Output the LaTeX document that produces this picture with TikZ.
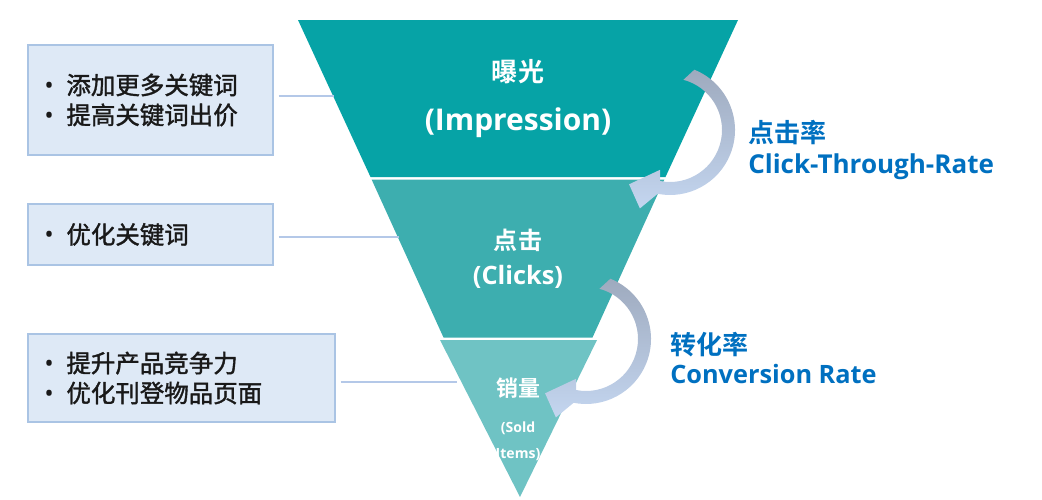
\documentclass[tikz,border=0pt]{standalone}
\usepackage{fontspec}
\setmainfont{Open Sans}
\newfontfamily\cjk{Noto Sans CJK SC}[BoldFont={Noto Sans CJK SC Bold}]
\newfontfamily\cjkmid{Noto Sans CJK SC}[FakeBold=1.5]
\definecolor{bandA}{RGB}{6,163,166}
\definecolor{bandB}{RGB}{61,174,175}
\definecolor{bandC}{RGB}{111,195,196}
\definecolor{boxfill}{RGB}{222,233,246}
\definecolor{boxline}{RGB}{170,196,228}
\definecolor{linkblue}{RGB}{180,200,232}
\definecolor{rateblue}{RGB}{0,112,192}
\definecolor{arrowtop}{RGB}{158,170,190}
\definecolor{arrowbot}{RGB}{196,214,240}

\begin{document}
\begin{tikzpicture}[x=0.025cm, y=-0.025cm,
    infobox/.style={draw=boxline, fill=boxfill, line width=1pt, align=left,
      inner xsep=0.4cm, inner ysep=0pt, text=black!90,
      font=\cjkmid\fontsize{17.4}{21.3}\selectfont},
    link/.style={draw=linkblue, line width=1.4pt, shorten <=3.5pt},
    funtxt/.style={text=white, inner sep=0pt},
    ratetxt/.style={text=rateblue, anchor=west, inner sep=0pt},
    ratearrow/.pic={
      \shade[top color=arrowtop, bottom color=arrowbot]
        (-75:52) -- (-68:65) arc[start angle=-68, end angle=101, radius=65]
        -- (111:84) -- (127:68) -- (104:41) -- (101:52)
        arc[start angle=101, end angle=-75, radius=52] -- cycle;
    },
  ]
  \useasboundingbox (0,0) rectangle (1042,500);
  \def\bul{\makebox[0.55cm][l]{\rmfamily\fontsize{18}{18}\selectfont •}}

  % funnel
  \fill[bandA] (298,20) -- (738,20) -- (665.5,177) -- (370.5,177) -- cycle;
  \fill[bandB] (371.6,179.5) -- (664.4,179.5) -- (592.5,337.5) -- (443.5,337.5) -- cycle;
  \fill[bandC] (440,340) -- (597,340) -- (520,497) -- cycle;

  % left boxes
  \node[infobox, minimum width=6.125cm, minimum height=2.75cm, text width=5.3cm]
    (tips1) at (150.5,100) {\bul 添加更多关键词\\\bul 提高关键词出价};
  \node[infobox, minimum width=6.125cm, minimum height=1.525cm, text width=5.3cm]
    (tips2) at (150.5,234.5) {\bul 优化关键词};
  \node[infobox, minimum width=7.675cm, minimum height=2.2cm, text width=6.85cm]
    (tips3) at (181.5,378) {\bul 提升产品竞争力\\\bul 优化刊登物品页面};

  \coordinate (edge1) at (334,96);
  \coordinate (edge2) at (399,237);
  \coordinate (edge3) at (457,382);
  \draw[link] (tips1.east |- edge1) -- (edge1);
  \draw[link] (tips2.east |- edge2) -- (edge2);
  \draw[link] (tips3.east |- edge3) -- (edge3);

  % curved arrows
  \pic at (670,130) {ratearrow};
  \pic at (586,339) {ratearrow};

  % funnel labels
  \node[funtxt, font=\cjk\bfseries\fontsize{18.5}{18.5}\selectfont] (imp) at (518,72) {曝光};
  \node[funtxt, font=\bfseries\fontsize{21.3}{21.3}\selectfont] (impen) at (518,123) {(Impression)};
  \node[funtxt, font=\cjk\bfseries\fontsize{17.1}{17.1}\selectfont] (clk) at (518,240) {点击};
  \node[funtxt, font=\bfseries\fontsize{18}{18}\selectfont] (clken) at (518,277) {(Clicks)};
  \node[funtxt, font=\cjk\bfseries\fontsize{15.6}{15.6}\selectfont] (sold) at (518,388) {销量};
  \node[funtxt, font=\bfseries\fontsize{10}{10}\selectfont] (solden) at (518,428) {(Sold};
  \node[funtxt, font=\bfseries\fontsize{10}{10}\selectfont] (itemen) at (518,455) {Items)};

  % rate labels
  \node[ratetxt, font=\cjk\bfseries\fontsize{18.5}{18.5}\selectfont] (ctr) at (748,133) {点击率};
  \node[ratetxt, font=\bfseries\fontsize{18.5}{18.5}\selectfont] (ctren) at (748,167) {Click-Through-Rate};
  \node[ratetxt, font=\cjk\bfseries\fontsize{18.5}{18.5}\selectfont] (cvr) at (670,345) {转化率};
  \node[ratetxt, font=\bfseries\fontsize{18}{18}\selectfont] (cvren) at (670,374) {Conversion Rate};
\end{tikzpicture}
\end{document}
